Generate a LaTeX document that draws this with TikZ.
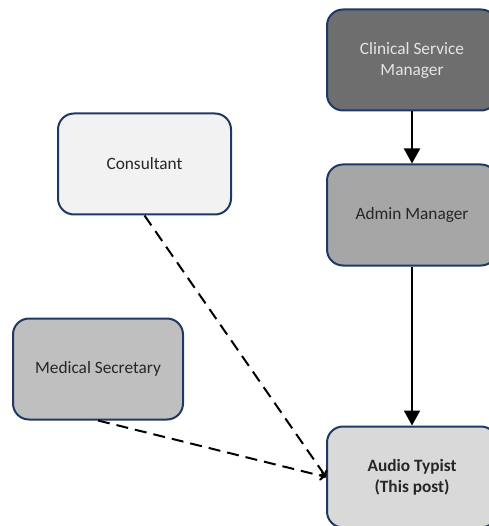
\documentclass[tikz,border=0pt]{standalone}
\usepackage{fontspec}
\setmainfont{Carlito}
\usetikzlibrary{arrows.meta}

\definecolor{postline}{HTML}{1F3864}
\definecolor{csmfill}{HTML}{6E6E6E}
\definecolor{adminfill}{HTML}{A6A6A6}
\definecolor{typistfill}{HTML}{D9D9D9}
\definecolor{consfill}{HTML}{F2F2F2}
\definecolor{secfill}{HTML}{BFBFBF}

\begin{document}
\begin{tikzpicture}[
  x=1pt, y=-1pt,
  post/.style={draw=postline, line width=2pt, rounded corners=16pt,
    minimum width=170pt, minimum height=101pt, align=center,
    font=\fontsize{17.3}{21}\selectfont, text=black!85},
  line/.style={line width=2pt, -{Triangle[width=16pt,length=15pt]}},
  dotline/.style={line width=2pt, dash pattern=on 12pt off 7pt,
    -{To[length=6pt,width=10pt]}}
]
\useasboundingbox (0,0) rectangle (488,526);

\node[post, fill=csmfill, text=white!90!black] (csm) at (412,60)
  {Clinical Service\\Manager};
\node[post, fill=adminfill] (admin) at (412,215) {Admin Manager};
\node[post, fill=typistfill, font=\fontsize{17.3}{21}\selectfont\bfseries]
  (typist) at (412,477) {Audio Typist\\(This post)};
\node[post, fill=consfill, minimum width=173pt] (cons) at (144.5,164) {Consultant};
\node[post, fill=secfill] (sec) at (98,369) {Medical Secretary};

\draw[line] (csm) -- (admin);
\draw[line] (admin) -- (typist);
\draw[dotline] (cons.south) -- (typist.west);
\draw[dotline] (sec.south) -- (typist.west);
\end{tikzpicture}
\end{document}
